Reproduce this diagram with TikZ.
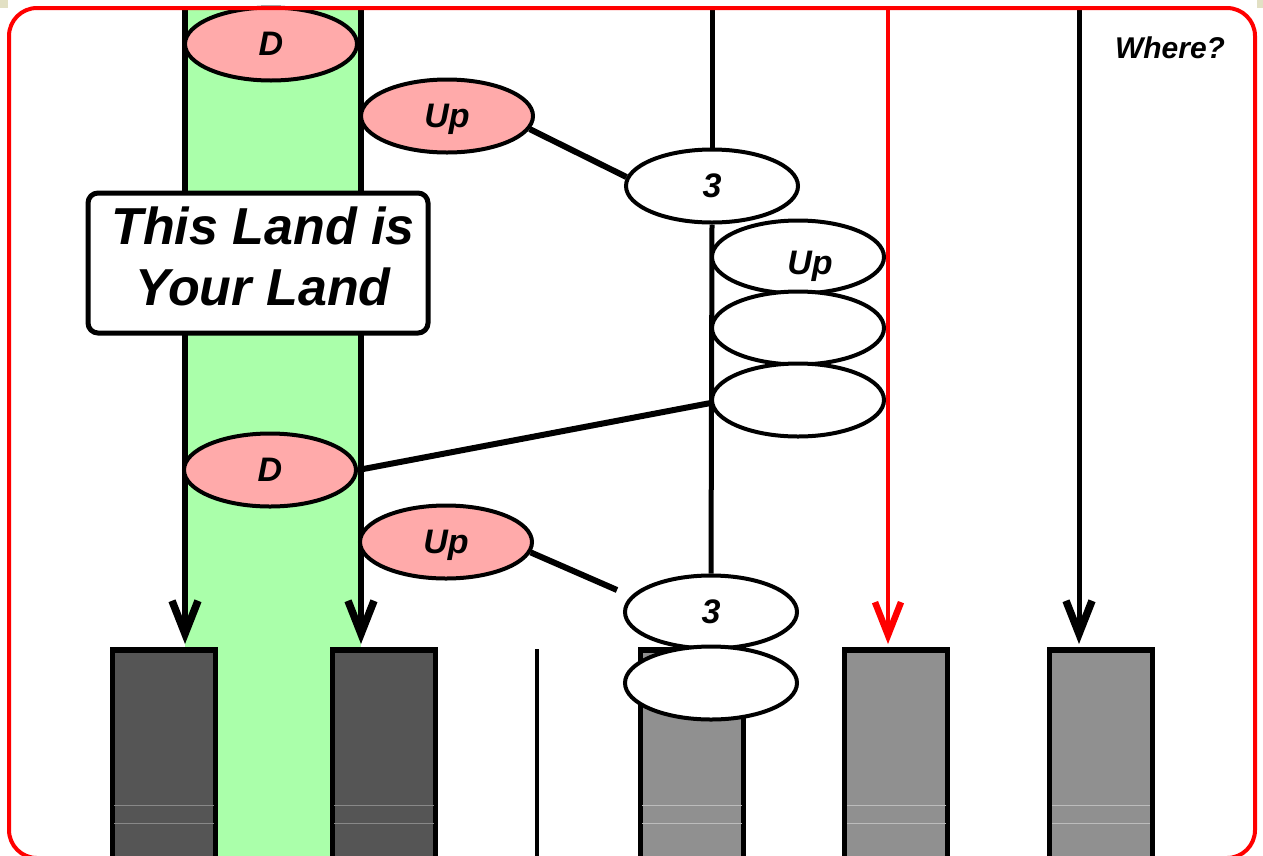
\documentclass[tikz,border=0pt]{standalone}
\usepackage{fontspec}
\setmainfont{Liberation Sans}
\usetikzlibrary{shapes.geometric,arrows.meta}
\definecolor{pinkc}{HTML}{FFAAAA}
\definecolor{greenc}{HTML}{AAFFAA}
\definecolor{darkc}{HTML}{555555}
\definecolor{grayc}{HTML}{909090}
\definecolor{redc}{HTML}{FF0000}
\definecolor{beigec}{HTML}{E2E0C4}
\newcommand\labfont{\fontsize{34}{40}\selectfont\bfseries\itshape}
\newcommand\ttlfont{\fontsize{52}{61}\selectfont\bfseries\itshape}
\newcommand\whfont{\fontsize{30}{36}\selectfont\bfseries\itshape}
\pgfdeclarelayer{back}
\pgfdeclarelayer{lines}
\pgfdeclarelayer{front}
\pgfsetlayers{back,lines,main,front}
\begin{document}
\begin{tikzpicture}[x=1pt,y=-1pt,
  ell/.style={ellipse, draw, line width=4pt, minimum width=172pt, minimum height=73pt, inner sep=0pt, text depth=0pt, font=\labfont},
  pinkell/.style={ell, fill=pinkc},
  whiteell/.style={ell, fill=white},
  darkbox/.style={rectangle, draw, line width=5.5pt, fill=darkc, minimum width=103pt, minimum height=240pt, anchor=north, inner sep=0pt},
  graybox/.style={darkbox, fill=grayc},
  vline/.style={line width=5.5pt},
  vtip/.style={-{Straight Barb[length=33pt,width=26pt,line width=7.5pt]}, shorten >=3pt},
  conn/.style={line width=6pt},
  faint/.style={line width=0.8pt},
]
\useasboundingbox (0,0) rectangle (1263,855);
\clip (0,0) rectangle (1263,855);

% ellipses and boxes
\node[pinkell] (d1) at (271,44) {D\hspace{12pt}};
\node[pinkell] (up1) at (447,116) {Up};
\node[whiteell] (th1) at (712,186) {3};
\node[whiteell, text height=34pt] (up3) at (798,257) {\hspace{24pt}Up};
\node[whiteell] (bl1) at (798,328) {};
\node[whiteell] (bl2) at (798,400) {};
\node[pinkell] (d2) at (270,470) {D};
\node[pinkell] (up2) at (446,542) {Up};

\begin{pgfonlayer}{back}
  \fill[beigec] (0,0) rectangle (8,8);
  \fill[beigec] (1257,0) rectangle (1263,8);
  \fill[greenc] (185,8) rectangle (361,860);
\end{pgfonlayer}

\node[darkbox] (box1) at (164,647) {};
\node[darkbox] (box2) at (384,647) {};
\node[graybox] (box3) at (692,647) {};
\node[graybox] (box4) at (896,647) {};
\node[graybox] (box5) at (1101,647) {};

\foreach \yy in {805,823} {
  \draw[faint, darkc!70!white] (114,\yy) -- (214,\yy);
  \draw[faint, darkc!70!white] (334,\yy) -- (434,\yy);
  \draw[faint, grayc!60!white] (642,\yy) -- (742,\yy);
  \draw[faint, grayc!60!white] (847,\yy) -- (946,\yy);
  \draw[faint, grayc!60!white] (1052,\yy) -- (1150,\yy);
}

\node[whiteell] (th2) at (711,612) {3};
\node[whiteell] (bl3) at (711,683) {};

% vertical lines
\coordinate (tg1) at (185,8);
\coordinate (tg2) at (361,8);
\coordinate (tmid) at (712,8);
\coordinate (tred) at (888,8);
\coordinate (tblk) at (1079,8);
\coordinate (sep1) at (537,649);
\coordinate (sep2) at (537,860);
\begin{pgfonlayer}{lines}
  \draw[vline,vtip] (tg1) -- (tg1 |- box1.north);
  \draw[vline,vtip] (tg2) -- (tg2 |- box2.north);
  \draw[line width=5pt] (tmid) -- (th1.north);
  \draw[line width=5pt] (th1.south) -- (th2.north);
  \draw[line width=4.5pt, redc, -{Straight Barb[length=33pt,width=26pt,line width=6.5pt]}, shorten >=3pt] (tred) -- (tred |- box4.north);
  \draw[line width=5pt, -{Straight Barb[length=33pt,width=26pt,line width=7.5pt]}, shorten >=3pt] (tblk) -- (tblk |- box5.north);
  \draw[line width=4.5pt] (sep1) -- (sep2);
\end{pgfonlayer}

% connectors
\coordinate (e2) at (617,590);
\draw[conn] (up1.-9) -- (th1.174);
\draw[conn] (up2.-7) -- (e2);
\draw[conn] (bl2.182) -- (d2.east);

% title
\node[draw, line width=5pt, fill=white, rounded corners=10pt, minimum width=340pt, minimum height=140pt, inner sep=0pt,
  label={[font=\ttlfont, align=center, yshift=7pt, xshift=5pt]center:This Land is\\Your Land}] (title) at (258,263) {};

\node[font=\whfont, anchor=base] (where) at (1170,58) {Where?};

\begin{pgfonlayer}{front}
  \draw[redc, line width=4pt, rounded corners=28pt] (9,8) rectangle (1255,858);
\end{pgfonlayer}
\end{tikzpicture}
\end{document}
